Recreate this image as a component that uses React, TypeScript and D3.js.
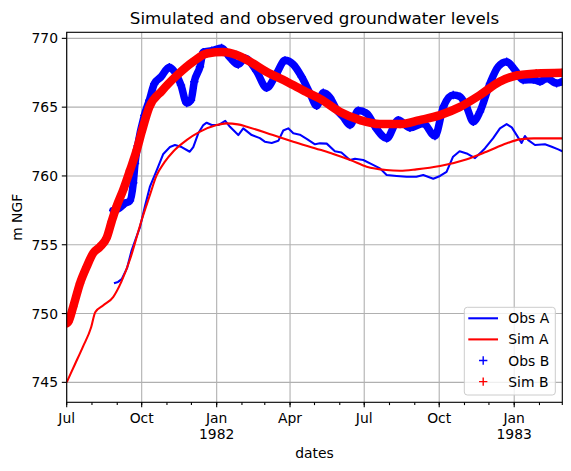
import React from "react";
import * as d3 from "d3";

// ---- data (day offset from 1981-07-01, value in m NGF) ----
const simADays = [0, 10, 20, 30, 35, 45, 57, 67, 78, 88, 92, 102, 110, 120, 131, 147, 163, 184, 196, 210, 221, 253, 278, 311, 327, 348, 368, 392, 409, 429, 458, 490, 515, 540, 556, 573, 608];
const simAValues = [745.0, 746.3, 747.6, 749.0, 750.1, 750.6, 751.2, 752.3, 754.0, 756.0, 756.8, 758.6, 760.0, 761.0, 761.8, 762.6, 763.2, 763.7, 763.82, 763.75, 763.58, 762.97, 762.49, 761.9, 761.6, 761.16, 760.67, 760.43, 760.38, 760.48, 760.72, 761.2, 761.76, 762.37, 762.66, 762.73, 762.73];

const obsADays = [58, 63, 67.5, 74, 79.7, 90, 96, 102, 110.4, 118.5, 126.7, 132.8, 141, 151, 155.3, 161.4, 167.6, 171.7, 177.9, 186, 194.5, 200.3, 210.5, 216.6, 227, 237, 243, 251.5, 259.6, 265.7, 271.8, 278, 286, 294.4, 304.6, 310.7, 319, 329, 337, 347.5, 353.7, 363.8, 374, 384.3, 392.5, 404.8, 417, 429, 437.4, 449.7, 458, 466, 474, 482, 490.7, 500.9, 509, 513, 523, 531.5, 539.7, 546, 552, 558, 562.2, 566.2, 574.5, 586.7, 595, 603, 608];
const obsAValues = [752.2, 752.3, 752.5, 753.3, 754.6, 756.3, 757.8, 759.2, 760.4, 761.6, 762.1, 762.25, 762.1, 761.76, 762.1, 763.1, 763.7, 763.87, 763.7, 763.7, 764.0, 763.57, 762.97, 763.46, 762.97, 762.75, 762.49, 762.4, 762.55, 763.3, 763.46, 763.1, 763.0, 762.7, 762.3, 762.37, 762.35, 761.8, 761.7, 761.16, 761.25, 761.16, 760.86, 760.55, 760.07, 760.0, 759.94, 759.94, 760.07, 759.8, 760.0, 760.3, 761.4, 761.8, 761.64, 761.3, 761.76, 762.0, 762.73, 763.46, 763.77, 763.53, 762.97, 762.4, 762.9, 762.6, 762.25, 762.3, 762.12, 761.93, 761.8];

const obsBDays = [57, 63, 71.5, 77.6, 81.7, 83.8, 87.1, 95.2, 101.3, 107.5, 115.7, 125.9, 132, 140.2, 147.2, 152.5, 156.5, 163.5, 167.6, 178, 190, 200.3, 210.5, 218.7, 233, 245.3, 257.6, 267.8, 278, 288.3, 298.5, 306.7, 314.8, 323, 331.2, 339, 347.5, 357.7, 368, 380.3, 392.5, 406.8, 421.1, 437.4, 451.8, 462, 474.2, 482.5, 490.7, 498.8, 507, 519.3, 529.4, 539.7, 550, 560, 572.4, 580.6, 588.8, 601, 607.6];
const obsBValues = [757.5, 757.6, 758.0, 758.2, 759.5, 760.9, 762.2, 764.4, 765.5, 766.7, 767.2, 767.9, 767.6, 766.6, 765.3, 765.5, 766.85, 767.94, 769.0, 769.1, 769.3, 768.6, 768.1, 768.55, 767.6, 766.4, 767.46, 768.4, 768.1, 767.2, 766.0, 765.1, 766.05, 765.7, 764.8, 764.3, 763.7, 764.75, 764.55, 763.4, 762.73, 764.06, 763.5, 763.82, 762.9, 765.0, 765.88, 765.76, 765.0, 763.94, 764.67, 766.73, 767.94, 768.3, 767.7, 766.97, 767.0, 766.85, 767.1, 766.73, 766.85];

const simBDays = [0, 2, 8, 16.3, 24.5, 32.6, 40.8, 49, 55.2, 61.3, 69.4, 77.6, 86, 92, 101.3, 117, 135, 155, 172, 192, 208, 225, 245, 270, 294, 311, 335, 360, 384, 409, 433, 458, 482, 507, 531, 552, 576, 608];
const simBValues = [749.3, 749.4, 750.5, 752.2, 753.4, 754.4, 754.85, 755.5, 756.7, 757.8, 759.0, 760.4, 761.9, 763.2, 765.0, 766.2, 767.3, 768.3, 768.9, 769.0, 768.8, 768.3, 767.57, 766.85, 766.1, 765.6, 764.67, 764.06, 763.77, 763.77, 764.06, 764.42, 765.0, 765.88, 766.85, 767.3, 767.45, 767.5];

const yTicks = [745, 750, 755, 760, 765, 770];
const monthNames = ["Jan", "Feb", "Mar", "Apr", "May", "Jun", "Jul", "Aug", "Sep", "Oct", "Nov", "Dec"];
const legendLabels = ["Obs A", "Sim A", "Obs B", "Sim B"];

const START = Date.UTC(1981, 6, 1);
const END = Date.UTC(1983, 2, 1);
const toDate = (d: number) => new Date(START + d * 86400000);

const W = 571, H = 471;
const L = 66.7, R = 562.3, T = 32.3, B = 402.3;
const FONT = "DejaVu Sans, sans-serif";

export default function App() {
  const x = d3.scaleUtc().domain([new Date(START), new Date(END)]).range([L, R]);
  const y = d3.scaleLinear().domain([743.55, 770.44]).range([B, T]);

  const majors = d3.utcMonth.every(3)!.range(new Date(START), new Date(END + 1));
  const minors = d3.utcMonth.range(new Date(START), new Date(END + 1));

  const mk = (days: number[], vals: number[]) => days.map((d, i) => [toDate(d), vals[i]] as [Date, number]);
  const obsA = mk(obsADays, obsAValues);
  const simA = mk(simADays, simAValues);
  const obsB = mk(obsBDays, obsBValues);
  const simB = mk(simBDays, simBValues);

  const line = d3.line<[Date, number]>().x(d => x(d[0])).y(d => y(d[1]));
  const smooth = d3.line<[Date, number]>().x(d => x(d[0])).y(d => y(d[1])).curve(d3.curveMonotoneX);
  const ms = 4.17;
  const plus = (pts: [Date, number][]) =>
    pts.map(p => {
      const px = x(p[0]), py = y(p[1]);
      return `M${px - ms},${py}H${px + ms}M${px},${py - ms}V${py + ms}`;
    }).join("");

  const blue = "#0000ff", red = "#ff0000";

  return (
    <svg width={W} height={H} style={{ position: "absolute", left: 0, top: 0, background: "#fff" }} fontFamily={FONT}>
      <rect x={0} y={0} width={W} height={H} fill="#fff" />
      {/* grid */}
      <g stroke="#b0b0b0" strokeWidth={1.1}>
        {majors.map((d, i) => <line key={"gx" + i} x1={x(d)} x2={x(d)} y1={T} y2={B} />)}
        {yTicks.map(v => <line key={"gy" + v} x1={L} x2={R} y1={y(v)} y2={y(v)} />)}
      </g>
      <defs>
        <clipPath id="clip"><rect x={L} y={T} width={R - L} height={B - T} /></clipPath>
      </defs>
      <g clipPath="url(#clip)" fill="none" strokeLinejoin="round">
        <path d={line(obsA)!} stroke={blue} strokeWidth={2.08} />
        <path d={smooth(simA)!} stroke={red} strokeWidth={2.08} />
        <path d={smooth(obsB)!} stroke={blue} strokeWidth={7.5} strokeLinecap="round" />
        <path d={plus(obsB)} stroke={blue} strokeWidth={1.4} />
        <path d={smooth(simB)!} stroke={red} strokeWidth={8.5} strokeLinecap="round" />
        <path d={plus(simB)} stroke={red} strokeWidth={1.4} />
      </g>
      {/* frame */}
      <rect x={L} y={T} width={R - L} height={B - T} fill="none" stroke="#000" strokeWidth={1.1} />
      {/* ticks */}
      <g stroke="#000" strokeWidth={1.1}>
        {minors.map((d, i) => <line key={"mn" + i} x1={x(d)} x2={x(d)} y1={B} y2={B + 2.8} />)}
        {majors.map((d, i) => <line key={"mj" + i} x1={x(d)} x2={x(d)} y1={B} y2={B + 4.9} />)}
        {yTicks.map(v => <line key={"yt" + v} x1={L - 4.9} x2={L} y1={y(v)} y2={y(v)} />)}
      </g>
      <g fontSize={13.9} fill="#000" textAnchor="middle">
        {majors.map((d, i) => (
          <text key={"xl" + i} x={x(d)} y={423}>
            {monthNames[d.getUTCMonth()]}
            {d.getUTCMonth() === 0 && <tspan x={x(d)} dy={16}>{d.getUTCFullYear()}</tspan>}
          </text>
        ))}
      </g>
      <g fontSize={13.9} fill="#000" textAnchor="end">
        {yTicks.map(v => (
          <text key={"yl" + v} x={L - 8.7} y={y(v)} dy="0.36em">{v}</text>
        ))}
      </g>
      <text x={(L + R) / 2} y={458} fontSize={13.9} textAnchor="middle">dates</text>
      <text transform={`translate(22,${(T + B) / 2}) rotate(-90)`} fontSize={13.9} textAnchor="middle">m NGF</text>
      <text x={(L + R) / 2} y={24} fontSize={16.7} textAnchor="middle">Simulated and observed groundwater levels</text>
      {/* legend */}
      <g>
        <rect x={464.3} y={307.3} width={91} height={87.7} rx={3} fill="#fff" fillOpacity={0.8} stroke="#cccccc" strokeWidth={1} />
        {legendLabels.map((lab, i) => {
          const ly = 318.3 + i * 21.1;
          const col = i % 2 === 0 ? blue : red;
          return (
            <g key={lab}>
              {i < 2 ? (
                <line x1={468.3} x2={498} y1={ly} y2={ly} stroke={col} strokeWidth={2.08} />
              ) : (
                <path d={`M${483.2 - ms},${ly}H${483.2 + ms}M${483.2},${ly - ms}V${ly + ms}`} stroke={col} strokeWidth={1.4} />
              )}
              <text x={508.3} y={ly} dy="0.36em" fontSize={13.9}>{lab}</text>
            </g>
          );
        })}
      </g>
    </svg>
  );
}
